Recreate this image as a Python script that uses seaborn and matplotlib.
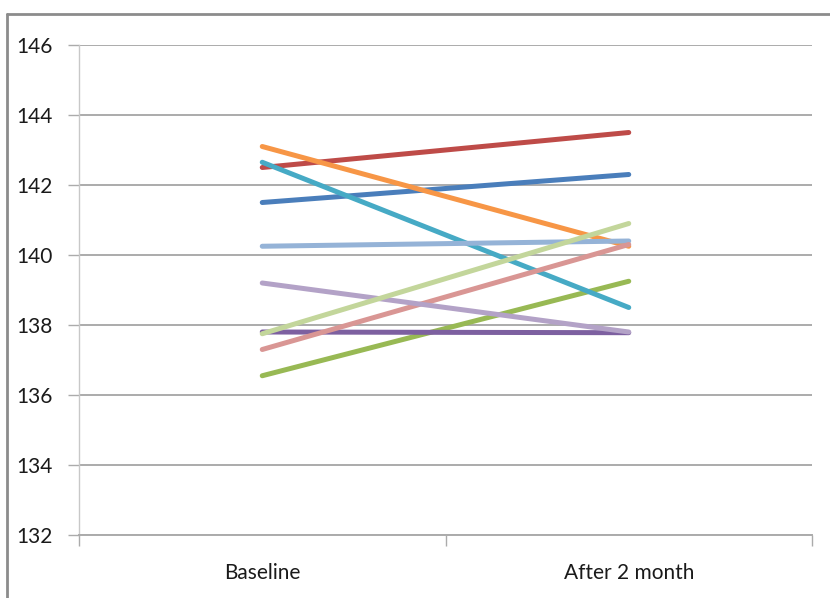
import pandas as pd
import matplotlib
matplotlib.use("Agg")
import matplotlib.pyplot as plt
import seaborn as sns
from matplotlib.lines import Line2D

# ──────────────────────────────
#  Data
# ──────────────────────────────
timepoints = ["Baseline", "After 2 month"]
series = ["S1", "S2", "S3", "S4", "S5", "S6", "S7", "S8", "S9", "S10"]
baseline = [141.5, 142.5, 136.55, 137.8, 142.65, 143.1, 140.25, 137.3, 139.2, 137.75]
after = [142.3, 143.5, 139.25, 137.78, 138.5, 140.25, 140.4, 140.3, 137.8, 140.9]
colors = ["#4A7EBB", "#BE4B48", "#98B954", "#7D60A0", "#46AAC5",
          "#F79646", "#95B3D7", "#D99694", "#B3A2C7", "#C3D69B"]
y_ticks = [132, 134, 136, 138, 140, 142, 144, 146]

df = pd.DataFrame({
    "series": series * 2,
    "time": [timepoints[0]] * len(series) + [timepoints[1]] * len(series),
    "value": baseline + after,
})

sns.set_theme(style="white")
plt.rcParams["font.family"] = ["Lato", "DejaVu Sans"]

fig = plt.figure(figsize=(8.3, 5.98), dpi=100)
ax = fig.add_axes([79 / 830, 1 - 535 / 598, (812 - 79) / 830, (535 - 45) / 598])

sns.lineplot(data=df, x="time", y="value", hue="series", palette=colors,
             linewidth=3.6, legend=False, ax=ax, solid_capstyle="round")

ax.set_xlim(-0.5, 1.5)
ax.set_ylim(132, 146)
ax.set_yticks(y_ticks)
ax.set_xlabel("")
ax.set_ylabel("")

grid_c = "#ABABAB"
ax.yaxis.grid(True, color=grid_c, linewidth=1.4)
ax.set_axisbelow(True)
for side in ["top", "right"]:
    ax.spines[side].set_visible(False)
ax.spines["left"].set_color("#C8C8C8")
ax.spines["left"].set_linewidth(1.0)
ax.spines["bottom"].set_color(grid_c)
ax.spines["bottom"].set_linewidth(1.4)

ax.tick_params(axis="y", length=8, width=1, color=grid_c, pad=11,
               labelsize=15, labelcolor="#1a1a1a", left=True)
ax.tick_params(axis="x", which="major", length=0, pad=20,
               labelsize=15, labelcolor="#1a1a1a")
ax.set_xticks([-0.5, 0.5, 1.5], minor=True)
ax.tick_params(axis="x", which="minor", length=8, width=1, color=grid_c,
               bottom=True, direction="out")

# chart area border (top and left edges visible in the reference)
fig.add_artist(Line2D([7 / 830, 1], [1 - 14 / 598, 1 - 14 / 598],
                      transform=fig.transFigure, color="#8C8C8C", linewidth=2))
fig.add_artist(Line2D([7 / 830, 7 / 830], [0, 1 - 14 / 598],
                      transform=fig.transFigure, color="#8C8C8C", linewidth=2))

fig.savefig("out.png", dpi=100, facecolor="white")
